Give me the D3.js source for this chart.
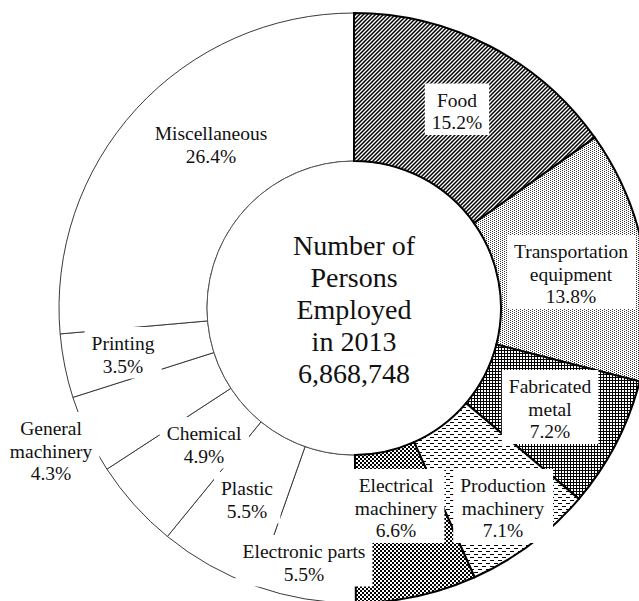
<!DOCTYPE html>
<html><head><meta charset="utf-8">
<script src="https://cdn.jsdelivr.net/npm/d3@7"></script>
<style>body{margin:0;background:#fff;overflow:hidden}</style>
</head><body><svg id="c" width="639" height="601"></svg>
<script>
// ---- data ----
const categories = [["Food"],["Transportation","equipment"],["Fabricated","metal"],["Production","machinery"],["Electrical","machinery"],["Electronic parts"],["Plastic"],["Chemical"],["General","machinery"],["Printing"],["Miscellaneous"]];
const shares = [15.2,13.8,7.2,7.1,6.6,5.5,5.5,4.9,4.3,3.5,26.4];
const centerLines = ["Number of","Persons","Employed","in 2013","6,868,748"];

// ---- layout / style ----
const fills = ["diag","dots","grid","dash","check",null,null,null,null,null,null];
const labelPos = [[457,106.5],[571,258],[550,393],[503,492],[396,492],[304,558],[247,495],[204,440],[51,435],[123,350],[211,140]];
const cx = 354, cy = 308, rIn = 147, rOut = 295;
const font = "'Liberation Serif','Times New Roman',serif";

const svg = d3.select("#c");
const defs = svg.append("defs");
function pat(id,w,h,draw){
  const p = defs.append("pattern").attr("id",id).attr("patternUnits","userSpaceOnUse").attr("width",w).attr("height",h);
  p.append("rect").attr("width",w).attr("height",h).attr("fill","#fff");
  draw(p);
}
pat("diag",4,4,p=>p.append("path").attr("d","M0,4L4,0M-1,1L1,-1M3,5L5,3").attr("stroke","#000").attr("stroke-width",1.5));
pat("dots",4,2,p=>{p.append("rect").attr("x",0).attr("y",0).attr("width",1).attr("height",1).attr("fill","#333");
                   p.append("rect").attr("x",2).attr("y",1).attr("width",1).attr("height",1).attr("fill","#333");});
pat("grid",3,3,p=>{p.append("rect").attr("x",0).attr("y",0).attr("width",3).attr("height",1).attr("fill","#000");
                   p.append("rect").attr("x",0).attr("y",0).attr("width",1).attr("height",3).attr("fill","#000");});
pat("dash",8,6,p=>{p.append("rect").attr("x",0).attr("y",0).attr("width",4).attr("height",1).attr("fill","#000");
                   p.append("rect").attr("x",4).attr("y",3).attr("width",4).attr("height",1).attr("fill","#000");});
pat("check",4,4,p=>{p.append("rect").attr("x",0).attr("y",0).attr("width",2).attr("height",2).attr("fill","#000");
                    p.append("rect").attr("x",2).attr("y",2).attr("width",2).attr("height",2).attr("fill","#000");});

const pie = d3.pie().sort(null).value(d=>d).startAngle(0).endAngle(2*Math.PI);
const arcs = pie(shares);
const arc = d3.arc().innerRadius(rIn).outerRadius(rOut);
const g = svg.append("g").attr("transform",`translate(${cx},${cy})`);

// white slices
g.selectAll("path.w").data(arcs.filter((d,i)=>!fills[i])).join("path")
  .attr("class","w").attr("d",arc).attr("fill","#fff").attr("stroke","#3a3a3a").attr("stroke-width",1);
// inner circle
g.append("circle").attr("r",rIn).attr("fill","#fff").attr("stroke","#555").attr("stroke-width",1);
// patterned slices
g.selectAll("path.p").data(arcs.filter((d,i)=>fills[i])).join("path")
  .attr("class","p").attr("d",arc).attr("fill",d=>`url(#${fills[d.index]})`).attr("stroke","#000").attr("stroke-width",2).attr("stroke-linejoin","miter");

// labels
const lg = svg.append("g");
arcs.forEach((d,i)=>{
  const lines = categories[i].concat([shares[i].toFixed(1)+"%"]);
  const [x,y] = labelPos[i];
  const grp = lg.append("g");
  const rect = grp.append("rect").attr("fill","#fff");
  const t = grp.append("text").attr("text-anchor","middle").attr("font-family",font).attr("font-size",19.5).attr("fill","#111");
  lines.forEach((s,k)=>t.append("tspan").attr("x",x).attr("y",y+k*22.5).text(s));
  const bb = t.node().getBBox();
  const top = y-23, bottom = y+(lines.length-1)*22.5+6;
  rect.attr("x",bb.x-7).attr("y",top).attr("width",bb.width+14).attr("height",bottom-top);
});

// center text
const ct = svg.append("text").attr("text-anchor","middle").attr("font-family",font).attr("font-size",28).attr("fill","#111");
centerLines.forEach((s,k)=>ct.append("tspan").attr("x",cx).attr("y",255+k*32).text(s));
</script></body></html>
